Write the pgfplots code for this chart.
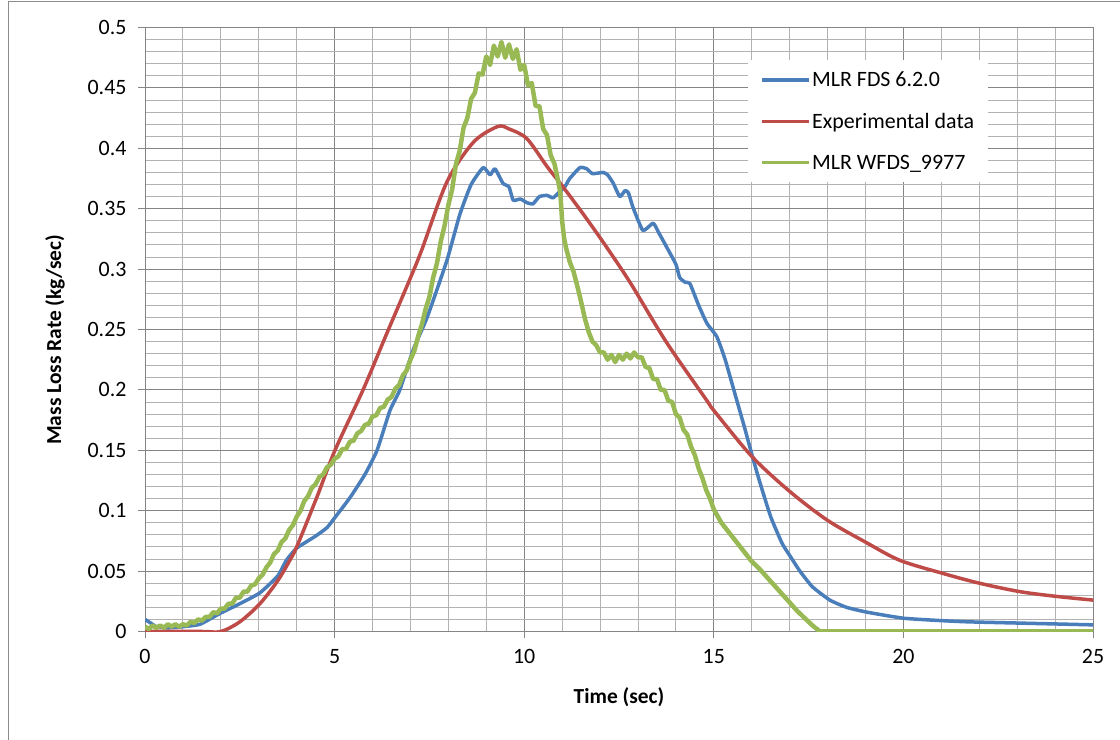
\documentclass[border=0pt]{standalone}
\usepackage{pgfplots}
\pgfplotsset{compat=1.18}
\usepackage{fontspec}
\setmainfont{Carlito}
\definecolor{xblue}{HTML}{4A7EBB}
\definecolor{xred}{HTML}{BE4B48}
\definecolor{xgreen}{HTML}{98B954}
\begin{document}
\begin{tikzpicture}[x=1bp,y=1bp]
\path[use as bounding box] (0,0) rectangle (1120,740);
\draw[black!45, line width=1bp] (8,0) -- (8,738) -- (1120,738);
\begin{axis}[
  at={(145bp,108.5bp)}, anchor=south west, scale only axis,
  width=948bp, height=604bp,
  xmin=0, xmax=25, ymin=0, ymax=0.5,
  xtick={0,5,10,15,20,25},
  ytick={0,0.05,0.1,0.15,0.2,0.25,0.3,0.35,0.4,0.45,0.5},
  yticklabels={0,0.05,0.1,0.15,0.2,0.25,0.3,0.35,0.4,0.45,0.5},
  minor x tick num=4, minor y tick num=4,
  grid=both,
  major grid style={draw=black!48, line width=0.9bp},
  minor grid style={draw=black!30, line width=0.9bp},
  axis line style={draw=black!48, line width=0.9bp},
  major tick style={draw=black!48, line width=0.9bp},
  tick align=outside, major tick length=7bp, minor tick length=0pt,
  xtick pos=bottom, ytick pos=left,
  /pgf/number format/assume math mode=true,
  tick label style={font=\fontsize{22}{22}\selectfont},
  yticklabel style={xshift=-8bp},
  xticklabel style={yshift=-7bp},
  xlabel={Time (sec)},
  ylabel={Mass Loss Rate (kg/sec)},
  xlabel style={font=\fontsize{21.5}{21.5}\selectfont\bfseries, at={(axis description cs:0.5,-0.108)}, anchor=center},
  ylabel style={font=\fontsize{21.5}{21.5}\selectfont\bfseries, at={(axis description cs:-0.095,0.483)}, anchor=center},
  legend style={at={(0.636,0.946)}, anchor=north west, draw=none, fill=white,
    font=\fontsize{22}{22}\selectfont, inner xsep=12bp, inner ysep=10bp, row sep=22bp,
    nodes={inner sep=1.5bp}},
  legend cell align=left,
  legend image code/.code={\draw[#1, line width=3.5bp] (0bp,0bp) -- (47bp,0bp);},
  every axis plot/.append style={line width=3.5bp, line join=round},
]
\addplot[xblue, smooth, tension=0.3] coordinates {
(0,0.010) (0.15,0.007) (0.3,0.004) (0.6,0.003) (1.0,0.004) (1.45,0.006) (1.98,0.015)
(2.5,0.023) (3.03,0.032) (3.5,0.046) (3.73,0.059) (4.0,0.069) (4.5,0.079) (4.8,0.086)
(5.0,0.094) (5.41,0.111) (5.8,0.130) (6.12,0.150) (6.46,0.183) (6.72,0.200) (7.07,0.233)
(7.44,0.260) (7.96,0.307) (8.3,0.345) (8.6,0.370) (8.92,0.384) (9.1,0.378) (9.23,0.383)
(9.44,0.371) (9.6,0.368) (9.71,0.357) (9.9,0.358) (10.07,0.355) (10.23,0.354) (10.4,0.360)
(10.6,0.361) (10.76,0.359) (10.9,0.363) (11.07,0.368) (11.2,0.375) (11.47,0.384) (11.65,0.383)
(11.8,0.379) (12.08,0.380) (12.2,0.378) (12.35,0.371) (12.52,0.360) (12.66,0.365) (12.75,0.363)
(12.87,0.351) (13.13,0.332) (13.4,0.338) (13.55,0.330) (13.76,0.318) (14.0,0.304) (14.1,0.293)
(14.25,0.289) (14.37,0.288) (14.6,0.270) (14.82,0.255) (15.08,0.244) (15.3,0.225) (15.6,0.192)
(15.8,0.170) (16.0,0.147) (16.2,0.125) (16.5,0.095) (16.8,0.073) (17.0,0.063) (17.27,0.050)
(17.6,0.037) (18.06,0.026) (18.5,0.020) (19.04,0.016) (20,0.011) (21,0.009) (21.7,0.008)
(23,0.007) (25,0.0055)
};
\addlegendentry{MLR FDS 6.2.0}
\addplot[xred, smooth, tension=0.5] coordinates {
(0,0) (1.5,0) (2.0,0) (2.5,0.008) (3.03,0.023) (3.5,0.042) (3.82,0.059) (4.0,0.070)
(4.53,0.111) (5.01,0.150) (5.75,0.200) (6.38,0.247) (6.99,0.292) (7.3,0.316) (7.96,0.372)
(8.66,0.405) (9.3,0.418) (9.6,0.416) (10.07,0.408) (10.6,0.385) (11.0,0.369) (11.5,0.348)
(12.0,0.326) (12.5,0.303) (12.87,0.285) (13.76,0.239) (14.82,0.191) (15.0,0.183) (16.0,0.145)
(17.0,0.116) (18.0,0.092) (19.0,0.074) (19.9,0.059) (21.05,0.048) (22.0,0.040) (23.07,0.033)
(24.05,0.029) (25,0.026)
};
\addlegendentry{Experimental data}
\addplot[xgreen, line width=4.5bp] coordinates {
(0.0,0.004) (0.1,0.002) (0.2,0.005) (0.3,0.003) (0.4,0.005) (0.5,0.003) (0.6,0.006) (0.7,0.004)
(0.8,0.006) (0.9,0.004) (1.0,0.006) (1.1,0.005) (1.2,0.008) (1.3,0.007) (1.4,0.010) (1.5,0.009)
(1.6,0.012) (1.7,0.012) (1.8,0.016) (1.9,0.015) (2.0,0.019) (2.1,0.019) (2.2,0.023) (2.3,0.023)
(2.4,0.028) (2.5,0.028) (2.6,0.033) (2.7,0.033) (2.8,0.038) (2.9,0.039) (3.0,0.044) (3.1,0.047)
(3.2,0.053) (3.3,0.057) (3.4,0.064) (3.5,0.067) (3.6,0.074) (3.7,0.077) (3.8,0.084) (3.9,0.088)
(4.0,0.095) (4.1,0.100) (4.2,0.108) (4.3,0.112) (4.4,0.119) (4.5,0.122) (4.6,0.128) (4.7,0.130)
(4.8,0.136) (4.9,0.138) (5.0,0.143) (5.1,0.145) (5.2,0.151) (5.3,0.151) (5.4,0.157) (5.5,0.158)
(5.6,0.164) (5.7,0.166) (5.8,0.171) (5.9,0.172) (6.0,0.178) (6.1,0.179) (6.2,0.185) (6.3,0.186)
(6.4,0.192) (6.5,0.194) (6.6,0.201) (6.7,0.204) (6.8,0.212) (6.9,0.216) (7.0,0.225) (7.1,0.232)
(7.2,0.244) (7.3,0.254) (7.4,0.267) (7.5,0.277) (7.6,0.293) (7.7,0.305) (7.8,0.323) (7.9,0.336)
(8.0,0.353) (8.1,0.366) (8.2,0.387) (8.3,0.398) (8.4,0.417) (8.5,0.425) (8.6,0.441) (8.7,0.446)
(8.8,0.462) (8.9,0.461) (9.0,0.476) (9.1,0.469) (9.2,0.485) (9.3,0.476) (9.4,0.488) (9.5,0.475)
(9.6,0.486) (9.7,0.474) (9.8,0.482) (9.9,0.465) (10.0,0.469) (10.1,0.452) (10.2,0.454) (10.3,0.435)
(10.4,0.435) (10.5,0.416) (10.6,0.411) (10.7,0.394) (10.8,0.387) (10.9,0.372) (10.95,0.364)
(11.0,0.340) (11.05,0.326) (11.1,0.318) (11.2,0.306) (11.3,0.298) (11.4,0.286) (11.5,0.273)
(11.6,0.259) (11.7,0.248) (11.8,0.240) (11.9,0.237) (12.0,0.231) (12.1,0.231) (12.2,0.225)
(12.3,0.229) (12.4,0.223) (12.5,0.229) (12.6,0.225) (12.7,0.230) (12.8,0.226) (12.9,0.231)
(13.0,0.227) (13.1,0.227) (13.2,0.219) (13.3,0.218) (13.4,0.209) (13.5,0.209) (13.6,0.200)
(13.7,0.200) (13.8,0.191) (13.9,0.190) (14.0,0.180) (14.1,0.177) (14.2,0.167) (14.3,0.163)
(14.4,0.153) (14.5,0.146) (14.6,0.135) (14.7,0.127) (14.8,0.117) (14.9,0.110) (15.0,0.101)
(15.2,0.090) (15.4,0.082) (15.6,0.074) (15.8,0.066) (16.0,0.058) (16.2,0.052) (16.4,0.045)
(16.6,0.038) (16.8,0.031) (17.0,0.024) (17.2,0.017) (17.4,0.011) (17.6,0.005) (17.8,0.000)
(25,0.000)
};
\addlegendentry{MLR WFDS\_9977}
\end{axis}
\end{tikzpicture}
\end{document}
